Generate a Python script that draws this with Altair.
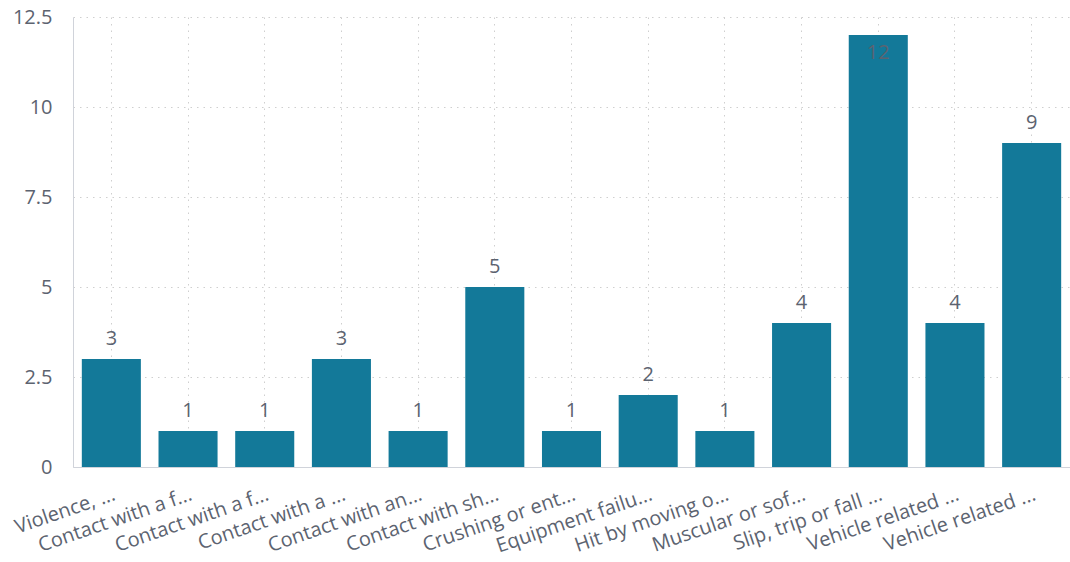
import json
import altair as alt
import pandas as pd

labels = [
    "Violence, ...",
    "Contact with a f...",
    "Contact with a f...",
    "Contact with a ...",
    "Contact with an...",
    "Contact with sh...",
    "Crushing or ent...",
    "Equipment failu...",
    "Hit by moving o...",
    "Muscular or sof...",
    "Slip, trip or fall ...",
    "Vehicle related ...",
    "Vehicle related ...",
]
values = [3, 1, 1, 3, 1, 5, 1, 2, 1, 4, 12, 4, 9]
y_ticks = [0, 2.5, 5, 7.5, 10, 12.5]

df = pd.DataFrame({"idx": list(range(len(labels))), "label": labels, "value": values})

FONT = "Open Sans"
TEXT = "#5c6370"
BAR = "#137999"

label_expr = json.dumps(labels) + "[datum.value]"

x = alt.X(
    "idx:O",
    sort=None,
    scale=alt.Scale(paddingInner=0.23, paddingOuter=0.115),
    axis=alt.Axis(
        title=None,
        labelExpr=label_expr,
        labelAngle=-19,
        labelAlign="right",
        labelBaseline="top",
        labelPadding=17,
        labelFontSize=20,
        labelFont=FONT,
        labelColor=TEXT,
        ticks=False,
        domainColor="#d0d3da",
        grid=True,
        gridDash=[1.5, 5],
        gridColor="#cfcfcf",
        bandPosition=0.5,
        labelOverlap=False,
        labelLimit=300,
    ),
)
y = alt.Y(
    "value:Q",
    scale=alt.Scale(domain=[0, 12.5], nice=False),
    axis=alt.Axis(
        title=None,
        values=y_ticks,
        labelExpr="'' + datum.value",
        labelFontSize=20,
        labelFont=FONT,
        labelColor=TEXT,
        labelPadding=21,
        ticks=False,
        domainColor="#d0d3da",
        grid=True,
        gridDash=[1.5, 5],
        gridColor="#cfcfcf",
    ),
)

bars = alt.Chart(df).mark_bar(color=BAR).encode(x=x, y=y)

above = alt.Chart(df).transform_filter("datum.value < 12").mark_text(
    baseline="bottom", dy=-10, fontSize=20, font=FONT, color=TEXT
).encode(x=x, y=y, text="value:Q")

inside = alt.Chart(df).transform_filter("datum.value >= 12").mark_text(
    baseline="top", dy=8, fontSize=20, font=FONT, color="#5c6370"
).encode(x=x, y=y, text="value:Q")

chart = (
    alt.layer(bars, above, inside)
    .properties(
        width=997,
        height=450,
        autosize=alt.AutoSizeParams(type="none"),
        padding={"left": 73, "top": 17, "right": 0, "bottom": 95},
        background="white",
    )
    .configure_view(stroke=None)
)

chart.save("out.html", embed_options={"renderer": "svg", "actions": False})
